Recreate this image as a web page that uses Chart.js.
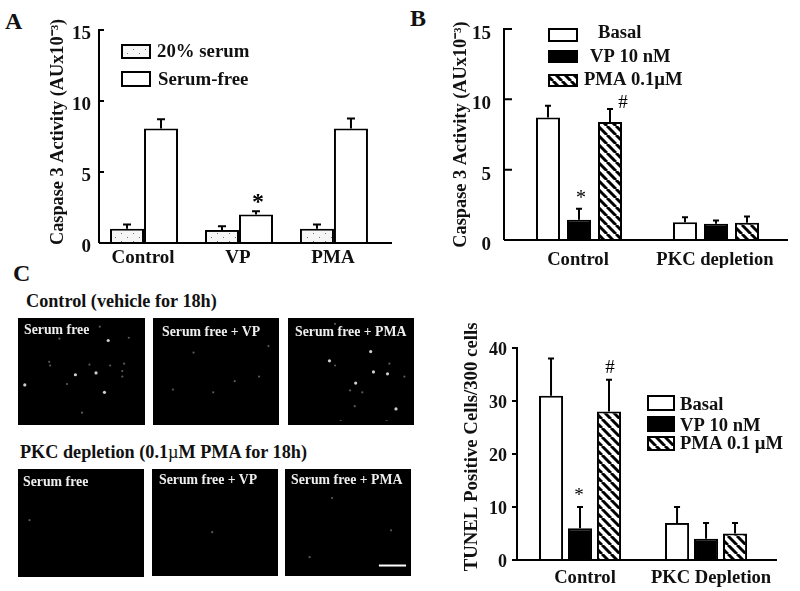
<!DOCTYPE html>
<html>
<head>
<meta charset="utf-8">
<script src="https://cdn.jsdelivr.net/npm/chart.js@4"></script>
<style>
html, body { margin: 0; padding: 0; background: #fff; }
body { position: relative; width: 800px; height: 591px; overflow: hidden; font-family: "Liberation Serif", serif; font-weight: bold; }
canvas { position: absolute; }
.t { position: absolute; white-space: nowrap; line-height: 1; color: #111; }
.cell { color: #eee; font-size: 13.8px; z-index: 2; }
.head { font-size: 18.2px; }
.letter { font-size: 24px; }
.mu { font-weight: normal; }
</style>
</head>
<body>
<div class="t letter" style="left:5px;top:9px">A</div>
<div class="t letter" style="left:410px;top:6px">B</div>
<div class="t letter" style="left:13px;top:261px">C</div>
<div class="t head" style="left:26px;top:292px">Control (vehicle for 18h)</div>
<div class="t head" style="left:20px;top:443px">PKC depletion (0.1<span class="mu">µ</span>M PMA for 18h)</div>
<div class="t cell" style="left:24px;top:323px">Serum free</div>
<div class="t cell" style="left:162px;top:325px">Serum free + VP</div>
<div class="t cell" style="left:295px;top:325px">Serum free + PMA</div>
<div class="t cell" style="left:23px;top:475px">Serum free</div>
<div class="t cell" style="left:159px;top:473px">Serum free + VP</div>
<div class="t cell" style="left:291px;top:473px">Serum free + PMA</div>

<canvas id="chartA" width="400" height="268" style="left:0;top:0"></canvas>
<canvas id="chartB" width="400" height="268" style="left:400px;top:0"></canvas>
<canvas id="chartC" width="360" height="271" style="left:440px;top:320px"></canvas>

<script>
// panel A
const aGroups = ["Control", "VP", "PMA"]
const aSerum = [1.0, 0.92, 1.0]
const aSerumErr = [1.3, 1.18, 1.3]
const aFree = [8.07, 2.0, 8.07]
const aFreeErr = [8.72, 2.23, 8.77]

// panel B
const bGroups = ["Control", "PKC depletion"]
const bBasal = [8.7, 1.27]
const bBasalErr = [9.55, 1.62]
const bVP = [1.44, 1.15]
const bVPErr = [2.22, 1.39]
const bPMA = [8.38, 1.22]
const bPMAErr = [9.31, 1.67]

// panel C bars
const cGroups = ["Control", "PKC Depletion"]
const cBasal = [31, 7]
const cBasalErr = [38, 10]
const cVP = [6, 4]
const cVPErr = [10, 7]
const cPMA = [28, 5]
const cPMAErr = [34, 7]

// micrograph spots, x/y in pixels inside each frame
const spots1Bright = [[92,20],[57,57],[79,55],[88,76],[3,68]]
const spots1Faint = [[114,17],[29,43],[30,47],[72,46],[94,47],[109,45],[107,53],[107,59],[48,67],[64,98],[40,18],[83,5]]
const spots2Bright = []
const spots2Faint = [[119,26],[39,33],[83,64],[60,76],[109,59],[17,73]]
const spots3Bright = [[40,42],[84,32],[68,66],[111,94],[87,54],[102,56]]
const spots3Faint = [[46,47],[104,45],[62,74],[75,76],[67,91],[120,59],[46,2],[52,107],[101,107]]
const spots4Faint = [[8,51]]
const spots5Faint = [[60,64]]
const spots6Faint = [[22,91],[46,27],[109,62]]
const scaleBar = [[96,100],[125,100]]

Chart.defaults.animation = false
Chart.defaults.responsive = false
Chart.defaults.font.family = '"Liberation Serif", serif'
Chart.defaults.font.weight = "bold"
Chart.defaults.color = "#111"

function makeTile(w, h, bg, draw) {
    const tile = document.createElement("canvas")
    tile.width = w
    tile.height = h
    const c = tile.getContext("2d")
    c.fillStyle = bg
    c.fillRect(0, 0, w, h)
    draw(c)
    return c.createPattern(tile, "repeat")
}
const hatch = makeTile(9, 9, "#fff", c => {
    c.strokeStyle = "#000"
    c.lineWidth = 3
    for (const d of [-9, 0, 9]) {
        c.beginPath()
        c.moveTo(d, 0)
        c.lineTo(d + 9, 9)
        c.stroke()
    }
})
const dots = makeTile(12, 8, "#f6f6f6", c => {
    c.fillStyle = "#777"
    c.fillRect(1, 1, 1, 1)
    c.fillRect(7, 5, 1, 1)
})

// axis lines, inward/outward ticks, error bars, significance marks, legend
const figure = {
    id: "figure",
    afterDatasetsDraw(chart, args, o) {
        const c = chart.ctx
        const area = chart.chartArea
        const y = chart.scales.y
        c.save()
        c.strokeStyle = "#000"
        c.fillStyle = "#000"
        c.lineWidth = 2
        chart.data.datasets.forEach((ds, k) => {
            chart.getDatasetMeta(k).data.forEach((bar, i) => {
                const top = y.getPixelForValue(ds.err[i])
                c.beginPath()
                c.moveTo(bar.x, bar.y)
                c.lineTo(bar.x, top)
                c.moveTo(bar.x - o.cap, top)
                c.lineTo(bar.x + o.cap, top)
                c.stroke()
            })
        })
        c.beginPath()
        c.moveTo(area.left, area.top - 1)
        c.lineTo(area.left, area.bottom)
        c.moveTo(area.left - o.baseLeft, area.bottom)
        c.lineTo(area.right, area.bottom)
        y.ticks.forEach((t, i) => {
            const py = y.getPixelForTick(i)
            c.moveTo(area.left, py)
            c.lineTo(area.left + o.tick, py)
        })
        c.stroke()
        c.textBaseline = "middle"
        c.textAlign = "center"
        o.marks.forEach(m => {
            const bar = chart.getDatasetMeta(m.ds).data[m.i]
            c.font = m.weight + " " + m.size + 'px "Liberation Serif"'
            c.fillText(m.text, bar.x + m.dx, y.getPixelForValue(chart.data.datasets[m.ds].err[m.i]) + m.dy)
        })
        c.textAlign = "left"
        c.font = "bold " + o.legendSize + 'px "Liberation Serif"'
        o.legend.forEach(l => {
            const ds = chart.data.datasets[l.ds]
            c.fillStyle = ds.backgroundColor
            c.fillRect(l.x, l.y, l.w, l.h)
            c.strokeRect(l.x, l.y, l.w, l.h)
            c.fillStyle = "#111"
            c.fillText(ds.label, l.tx, l.ty)
        })
        c.restore()
    }
}

function barChart(id, cfg) {
    return new Chart(document.getElementById(id), {
        type: "bar",
        plugins: [figure],
        data: {
            datasets: cfg.series.map(s => ({
                label: s.label,
                data: s.values.map((v, i) => ({ x: i + 1, y: v })),
                err: s.err,
                backgroundColor: s.fill,
                borderColor: "#000",
                borderWidth: 2,
                categoryPercentage: cfg.catPct,
                barPercentage: cfg.barPct
            }))
        },
        options: {
            layout: { padding: { left: cfg.padLeft, top: cfg.padTop, right: cfg.padRight, bottom: 0 } },
            plugins: {
                legend: { display: false },
                tooltip: { enabled: false },
                figure: {
                    cap: cfg.cap,
                    tick: cfg.tick,
                    baseLeft: cfg.baseLeft,
                    marks: cfg.marks,
                    legend: cfg.legend,
                    legendSize: cfg.legendSize
                }
            },
            scales: {
                x: {
                    type: "linear",
                    offset: false,
                    min: cfg.xMin,
                    max: cfg.xMax,
                    grid: { display: false, drawTicks: false },
                    border: { display: false },
                    afterBuildTicks: s => { s.ticks = cfg.groups.map((g, i) => ({ value: i + 1 })) },
                    afterFit: s => { s.height = cfg.xHeight },
                    ticks: {
                        padding: cfg.xPad,
                        labelOffset: cfg.xShift,
                        maxRotation: 0,
                        autoSkip: false,
                        font: { size: cfg.xSize },
                        callback: v => cfg.groups[v - 1]
                    }
                },
                y: {
                    min: 0,
                    max: cfg.yMax,
                    grid: { display: false, drawTicks: false },
                    border: { display: false },
                    afterFit: s => { s.width = cfg.yWidth },
                    title: {
                        display: true,
                        text: cfg.yTitle,
                        font: { size: cfg.titleSize },
                        padding: 0
                    },
                    ticks: {
                        stepSize: cfg.yStep,
                        padding: cfg.yPad,
                        // two lines with a short line height push the numbers below their tick, as in the figure
                        font: { size: cfg.ySize, lineHeight: cfg.yShift },
                        callback: v => ["", String(v)]
                    }
                }
            }
        }
    })
}

barChart("chartA", {
    groups: aGroups,
    series: [
        { label: "20% serum", values: aSerum, err: aSerumErr, fill: dots },
        { label: "Serum-free", values: aFree, err: aFreeErr, fill: "#fff" }
    ],
    catPct: 0.716, barPct: 1,
    xMin: 0.526, xMax: 3.611, xHeight: 25, xPad: 4, xSize: 19, xShift: -1,
    padLeft: 47, padTop: 30, padRight: 8,
    yMax: 15, yStep: 5, yWidth: 52, yPad: 8, ySize: 19, yShift: "9px",
    // leading no-break spaces lift the rotated title a little above the axis centre
    yTitle: "\u00A0\u00A0Caspase 3 Activity (AUx10⁻³)", titleSize: 18.3,
    cap: 4, tick: 5, baseLeft: 0,
    marks: [{ ds: 1, i: 1, text: "*", size: 24, weight: "bold", dx: 2, dy: -9 }],
    legendSize: 18.8,
    legend: [
        { ds: 0, x: 122, y: 45, w: 28, h: 13, tx: 157, ty: 52 },
        { ds: 1, x: 122, y: 72, w: 28, h: 14, tx: 158, ty: 80 }
    ]
})

barChart("chartB", {
    groups: bGroups,
    series: [
        { label: "Basal", values: bBasal, err: bBasalErr, fill: "#fff" },
        { label: "VP 10 nM", values: bVP, err: bVPErr, fill: "#000" },
        { label: "PMA 0.1µM", values: bPMA, err: bPMAErr, fill: hatch }
    ],
    catPct: 0.679, barPct: 0.774,
    xMin: 0.4526, xMax: 2.5256, xHeight: 28, xPad: 9, xSize: 18.6, xShift: -1,
    padLeft: 50, padTop: 29, padRight: 12,
    yMax: 15, yStep: 5, yWidth: 54, yPad: 13, ySize: 19, yShift: "10px",
    yTitle: "Caspase 3 Activity (AUx10⁻³)", titleSize: 18.3,
    cap: 3, tick: 8, baseLeft: 0,
    marks: [
        { ds: 1, i: 0, text: "*", size: 20, weight: "normal", dx: 2, dy: -10 },
        { ds: 2, i: 0, text: "#", size: 19, weight: "normal", dx: 13, dy: -6 }
    ],
    legendSize: 18.6,
    legend: [
        { ds: 0, x: 149, y: 29, w: 28, h: 12, tx: 198, ty: 33 },
        { ds: 1, x: 149, y: 51, w: 28, h: 11, tx: 190, ty: 57 },
        { ds: 2, x: 149, y: 75, w: 28, h: 11, tx: 184, ty: 80 }
    ]
})

barChart("chartC", {
    groups: cGroups,
    series: [
        { label: "Basal", values: cBasal, err: cBasalErr, fill: "#fff" },
        { label: "VP 10 nM", values: cVP, err: cVPErr, fill: "#000" },
        { label: "PMA 0.1 µM", values: cPMA, err: cPMAErr, fill: hatch }
    ],
    catPct: 0.69, barPct: 0.83,
    xMin: 0.5, xMax: 2.563, xHeight: 31, xPad: 7, xSize: 18.6, xShift: 5,
    padLeft: 21, padTop: 28, padRight: 23,
    yMax: 40, yStep: 10, yWidth: 56, yPad: 10, ySize: 18, yShift: "5px",
    yTitle: "\u00A0\u00A0\u00A0TUNEL Positive Cells/300 cells", titleSize: 18.8,
    cap: 3, tick: -5, baseLeft: 4,
    marks: [
        { ds: 1, i: 0, text: "*", size: 19, weight: "normal", dx: -1, dy: -11 },
        { ds: 2, i: 0, text: "#", size: 19, weight: "normal", dx: 1, dy: -12 }
    ],
    legendSize: 18.6,
    legend: [
        { ds: 0, x: 208, y: 76, w: 26, h: 14, tx: 240, ty: 85 },
        { ds: 1, x: 208, y: 97, w: 26, h: 14, tx: 240, ty: 106 },
        { ds: 2, x: 208, y: 117, w: 26, h: 13, tx: 240, ty: 124 }
    ]
})

// black micrograph frames
const blackFrame = {
    id: "blackFrame",
    beforeDraw(chart) {
        chart.ctx.fillStyle = "#000"
        chart.ctx.fillRect(0, 0, chart.width, chart.height)
    }
}

function frame(left, top, w, h, bright, faint, bar) {
    const cv = document.createElement("canvas")
    cv.width = w
    cv.height = h
    cv.style.left = left + "px"
    cv.style.top = top + "px"
    document.body.appendChild(cv)
    const toXY = p => ({ x: p[0], y: p[1] })
    const datasets = [
        { data: faint.map(toXY), pointRadius: 1.1, pointBackgroundColor: "#5a5a5a", pointBorderWidth: 0 },
        { data: bright.map(toXY), pointRadius: 1.6, pointBackgroundColor: "#cfcfcf", pointBorderWidth: 0 }
    ]
    if (bar) {
        datasets.push({ data: bar.map(toXY), showLine: true, borderColor: "#fff", borderWidth: 2, pointRadius: 0 })
    }
    new Chart(cv, {
        type: "scatter",
        plugins: [blackFrame],
        data: { datasets: datasets },
        options: {
            plugins: { legend: { display: false }, tooltip: { enabled: false } },
            scales: {
                x: { display: false, min: 0, max: w },
                y: { display: false, min: 0, max: h, reverse: true }
            }
        }
    })
}

frame(18, 318, 127, 107, spots1Bright, spots1Faint)
frame(153, 318, 126, 107, spots2Bright, spots2Faint)
frame(288, 318, 126, 107, spots3Bright, spots3Faint)
frame(18, 469, 126, 108, [], spots4Faint)
frame(152, 469, 126, 107, [], spots5Faint)
frame(285, 469, 126, 107, [], spots6Faint, scaleBar)
</script>
</body>
</html>
